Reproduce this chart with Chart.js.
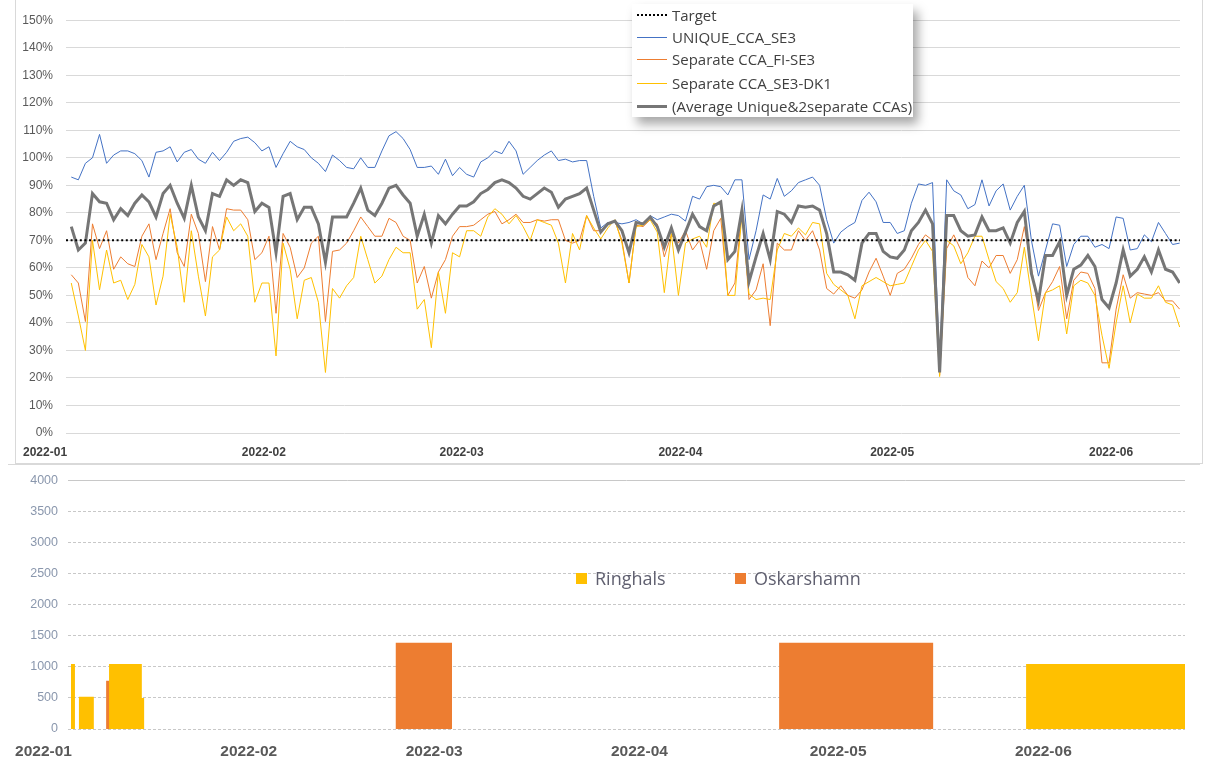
<!DOCTYPE html>
<html>
<head>
<meta charset="utf-8">
<script src="https://cdn.jsdelivr.net/npm/chart.js@4.4.1/dist/chart.umd.min.js"></script>
<style>
  body { margin: 0; background: #fff; width: 1206px; height: 760px; overflow: hidden; position: relative; }
  canvas { position: absolute; left: 0; }
  #topChart { top: 0; }
  #bottomChart { top: 463px; }
  #topFrame { position: absolute; left: 15px; top: -1px; width: 1186px; height: 463px; border: 1px solid #d9d9d9; }
  #bottomLine { position: absolute; left: 8px; top: 464px; width: 1192px; border-top: 1px solid #d9d9d9; }
  .legendBox { position: absolute; left: 632px; top: 4px; width: 281px; height: 113px; background: #fff;
               box-shadow: 5px 7px 10px rgba(0,0,0,0.35); font-family: 'Open Sans', sans-serif; font-size: 15px; color: #404040; }
  .row { position: absolute; left: 0; height: 20px; line-height: 20px; white-space: nowrap; }
  .row span.sample { position: absolute; left: 5px; top: 10px; width: 30px; }
  .row span.label { position: absolute; left: 40px; top: 0; }
  .barLegend { position: absolute; top: 566px; font-family: 'Open Sans', sans-serif; font-size: 18px; color: #5f5f6f; white-space: nowrap; }
  .barLegend i { display: inline-block; width: 11px; height: 11px; margin-right: 8px; vertical-align: 1px; }
</style>
</head>
<body>
<div id="topFrame"></div>
<canvas id="topChart" width="1206" height="463"></canvas>
<div id="bottomLine"></div>
<canvas id="bottomChart" width="1206" height="297"></canvas>

<div class="legendBox">
  <div class="row" style="top:1px"><span class="sample" style="border-top:2px dotted #000;top:9px"></span><span class="label">Target</span></div>
  <div class="row" style="top:23px"><span class="sample" style="border-top:1px solid #4472c4"></span><span class="label">UNIQUE_CCA_SE3</span></div>
  <div class="row" style="top:45px"><span class="sample" style="border-top:1px solid #ed7d31"></span><span class="label">Separate CCA_FI-SE3</span></div>
  <div class="row" style="top:69px"><span class="sample" style="border-top:1px solid #ffc000"></span><span class="label">Separate CCA_SE3-DK1</span></div>
  <div class="row" style="top:92px"><span class="sample" style="border-top:3px solid #767676;top:9px"></span><span class="label">(Average Unique&amp;2separate CCAs)</span></div>
</div>
<div class="barLegend" style="left:576px"><i style="background:#ffc000"></i>Ringhals</div>
<div class="barLegend" style="left:735px"><i style="background:#ed7d31"></i>Oskarshamn</div>

<script>
// month ticks (days since 2022-01-01)
const monthStarts = [0, 31, 59, 90, 120, 151];
const monthLabels = ['2022-01', '2022-02', '2022-03', '2022-04', '2022-05', '2022-06'];

// daily readings start at day 0.6 (Jan 1, afternoon)
const firstDay = 0.6;
const targetLevel = 70;

const uniqueSE3 = [93, 92, 98, 100, 108.5, 98, 101, 102.5, 102.5, 101.5,
  99, 93, 102, 102.5, 104, 98.5, 102, 103, 99.5, 98,
  102, 99, 102, 106, 107, 107.5, 105.5, 102.5, 104, 96.5,
  101.5, 106, 104, 103, 100, 98, 95, 101, 99, 96.5,
  96, 100, 96.5, 96.5, 102.5, 108, 109.5, 107, 103, 96.5,
  96.5, 97, 94, 99.5, 93.5, 96.5, 94, 93, 98.5, 100,
  102.5, 101.5, 106, 102.5, 94, 96.5, 99, 101, 102.5, 99,
  99.5, 98.5, 99, 99, 86, 74.5, 76.5, 76.5, 76, 76.5,
  77.5, 76, 79, 77.5, 78.5, 79.5, 79, 77, 86, 85,
  89.5, 90, 89.5, 86.5, 92, 92, 63, 73.5, 86.5, 85,
  92.5, 86, 88, 91, 92, 93, 90, 77.5, 69, 73,
  75, 76.5, 84.5, 87.5, 84, 76.5, 76.5, 72.5, 73.5, 83.5,
  90.5, 90, 91, 25, 92, 88, 86.5, 81.5, 83, 92,
  82.5, 88, 90.5, 81, 86, 90, 70, 57, 66.5, 76,
  75.5, 60.5, 68.5, 71.5, 71.5, 67.5, 68.5, 67, 78.5, 78,
  66.5, 67, 72, 69.5, 76.5, 72.5, 68.5, 69];

const sepFISE3 = [57.5, 54.5, 40.5, 76, 67, 73.5, 59.5, 64, 61.5, 60.5,
  71.5, 76, 63, 72.5, 81.5, 65.5, 60.5, 79.5, 72.5, 55,
  75, 66.5, 81.5, 81, 81, 77.5, 63, 65.5, 71.5, 43.5,
  72.5, 67.5, 56.5, 60, 69, 71.5, 40.5, 66, 66.5, 69,
  73.5, 78.5, 75, 71.5, 71.5, 78, 76.5, 71.5, 70, 54.5,
  60.5, 49, 58.5, 63, 71.5, 75, 75, 75.5, 77.5, 79.5,
  80.5, 76, 77.5, 79.5, 76.5, 76.5, 77.5, 77, 77.5, 77.5,
  70, 69, 70, 79, 73.5, 73.5, 76, 77, 70, 54.5,
  75.5, 75, 77.5, 76, 64, 72, 69, 73.5, 66.5, 70,
  59.5, 73.5, 78, 50, 54.5, 81, 48.5, 52, 61.5, 39,
  69, 66.5, 66.5, 73.5, 70, 73.5, 66.5, 52.5, 50.5, 53.5,
  50, 49, 52, 58.5, 63.5, 57, 50, 58, 59.5, 63.5,
  68.5, 72, 70, 21, 67, 72, 66.5, 56.5, 53.5, 62.5,
  60, 64.5, 64.5, 58, 63, 75, 60, 44.5, 51, 55,
  60.5, 41.5, 55.5, 58.5, 58, 52.5, 25.5, 25.5, 45, 57.5,
  49, 51, 50.5, 50, 51, 48, 48, 45];

const sepSE3DK1 = [54.5, 42.5, 30, 70, 52, 66.5, 54.5, 55.5, 48.5, 54,
  68.5, 64, 46.5, 57, 79.5, 67.5, 47.5, 73.5, 57, 42.5,
  64, 66.5, 78.5, 73.5, 76, 71.5, 47.5, 54.5, 54.5, 28,
  69, 59.5, 41.5, 55.5, 56.5, 47.5, 22, 52.5, 49, 53.5,
  56.5, 71.5, 63, 54.5, 57, 63, 67.5, 65.5, 65.5, 45,
  48.5, 31, 58.5, 43.5, 65.5, 64, 73.5, 73.5, 71.5, 78.5,
  81.5, 79.5, 76, 79, 75, 70, 77.5, 76.5, 75.5, 69,
  54.5, 72.5, 66.5, 79, 74.5, 70.5, 74.5, 77.5, 69, 54.5,
  75, 75.5, 77.5, 73, 51, 72.5, 50, 69, 70.5, 71.5,
  67.5, 83.5, 83, 50, 50, 79.5, 50.5, 48.5, 49, 48.5,
  66.5, 72.5, 71.5, 74.5, 72, 76.5, 76, 58, 54, 52,
  50, 41.5, 53.5, 55, 56.5, 55, 53.5, 54, 54.5, 60.5,
  66.5, 70, 66, 20.5, 70, 68, 61.5, 65.5, 71.5, 71.5,
  63, 55, 52.5, 47.5, 51, 67.5, 50, 33.5, 51, 52,
  53.5, 36, 53.5, 55.5, 54.5, 50, 35.5, 23.5, 40, 53.5,
  40, 50.5, 49, 49, 53.5, 47.5, 46.5, 38.5];

const averageCCA = [75, 66.5, 69, 87, 84, 83.5, 77.5, 81.5, 79, 83.5,
  86.5, 84, 78.5, 87, 90, 83.5, 78, 90, 78.5, 73.5,
  87, 86, 92, 90, 92, 91, 80.5, 83.5, 82, 65.5,
  86, 87, 77.5, 82, 82, 76, 62, 78.5, 78.5, 78.5,
  83.5, 89, 81, 79, 83.5, 89, 90, 86.5, 83.5, 71.5,
  79.5, 69, 79, 76, 79.5, 82.5, 82.5, 84, 87, 88.5,
  91, 92, 91, 89, 86, 85, 87, 89, 87.5, 82,
  85, 86, 87, 89, 81, 73, 76, 77, 73.5, 65.5,
  76.5, 76, 78.5, 75, 67.5, 74.5, 66.5, 73, 79.5, 75,
  73.5, 82.5, 84, 63, 66, 81, 55, 64, 72.5, 63,
  80.5, 79.5, 76.5, 82.5, 82, 82.5, 81, 72.5, 58.5, 58.5,
  57.5, 55.5, 69, 72.5, 72.5, 66, 64, 63.5, 66.5, 73.5,
  76.5, 81, 76, 22, 79, 79, 73.5, 71.5, 72, 78.5,
  73.5, 73.5, 74.5, 69, 76.5, 80.5, 58, 48, 64.5, 64.5,
  69.5, 50, 59.5, 61, 64.5, 60.5, 48.5, 45.5, 54.5, 66.5,
  57, 59.5, 64, 58.5, 66.5, 59.5, 58.5, 54.5];

// outages (MW), start/end in days since 2022-01-01
const ringhalsStart = [-0.15, 1.05, 5.6, 10.55, 144.1];
const ringhalsEnd   = [0.45, 3.3, 10.55, 10.9, 168.1];
const ringhalsMW    = [1045, 520, 1045, 500, 1045];
const oskarStart = [5.15, 48.9, 106.8];
const oskarEnd   = [5.75, 57.4, 130.1];
const oskarMW    = [775, 1390, 1390];

Chart.defaults.font.family = "'Liberation Sans', Arial, sans-serif";
Chart.defaults.animation = false;

function toPoints(values) {
  return values.map((v, i) => ({ x: firstDay + i, y: v }));
}

function toSteps(starts, ends, mw) {
  const pts = [];
  starts.forEach((s, i) => {
    pts.push({ x: s, y: mw[i] });
    pts.push({ x: ends[i], y: 0 });
  });
  return pts;
}

function monthTicks(scale) {
  scale.ticks = monthStarts.map(v => ({ value: v }));
}

function monthLabel(value) {
  const k = monthStarts.indexOf(value);
  return k >= 0 ? monthLabels[k] : '';
}

const topMin = -0.15, topMax = 157.65;

const lineSet = (label, data, color, width, order) => ({
  label: label, data: toPoints(data), borderColor: color, borderWidth: width,
  pointRadius: 0, tension: 0, fill: false, order: order
});

new Chart(document.getElementById('topChart'), {
  type: 'line',
  data: {
    datasets: [
      { label: 'Target', data: [{ x: topMin, y: targetLevel }, { x: topMax, y: targetLevel }],
        borderColor: '#000', borderWidth: 2, borderDash: [2, 2.6], pointRadius: 0, order: -1 },
      lineSet('UNIQUE_CCA_SE3', uniqueSE3, '#4472c4', 1, 3),
      lineSet('Separate CCA_FI-SE3', sepFISE3, '#ed7d31', 1, 2),
      lineSet('Separate CCA_SE3-DK1', sepSE3DK1, '#ffc000', 1, 1),
      lineSet('(Average Unique&2separate CCAs)', averageCCA, '#767676', 3, 0)
    ]
  },
  options: {
    responsive: false,
    layout: { padding: { left: 0, right: 26, top: 17, bottom: 0 } },
    plugins: { legend: { display: false }, tooltip: { enabled: false } },
    scales: {
      x: {
        type: 'linear', min: topMin, max: topMax,
        afterBuildTicks: monthTicks,
        afterFit: s => { s.height = 30; },
        grid: { display: false, drawTicks: false },
        border: { display: false },
        ticks: { autoSkip: false, maxRotation: 0, align: 'end', padding: 12,
                 color: '#404040', font: { size: 12, weight: 'bold' }, callback: monthLabel }
      },
      y: {
        min: 0, max: 150,
        afterFit: s => { s.width = 66; },
        grid: { color: '#d9d9d9', drawTicks: false },
        border: { display: false },
        ticks: { stepSize: 10, padding: 13, color: '#595959', font: { size: 12 }, callback: v => v + '%' }
      }
    }
  }
});

new Chart(document.getElementById('bottomChart'), {
  type: 'line',
  data: {
    datasets: [
      { label: 'Ringhals', data: toSteps(ringhalsStart, ringhalsEnd, ringhalsMW), stepped: true,
        fill: 'origin', backgroundColor: '#ffc000', borderColor: 'transparent', borderWidth: 0, pointRadius: 0, order: 0 },
      { label: 'Oskarshamn', data: toSteps(oskarStart, oskarEnd, oskarMW), stepped: true,
        fill: 'origin', backgroundColor: '#ed7d31', borderColor: 'transparent', borderWidth: 0, pointRadius: 0, order: 1 }
    ]
  },
  options: {
    responsive: false,
    layout: { padding: { left: 0, right: 21, top: 9, bottom: 0 } },
    plugins: { legend: { display: false }, tooltip: { enabled: false } },
    scales: {
      x: {
        type: 'linear', min: -0.6, max: 168.1,
        afterBuildTicks: monthTicks,
        afterFit: s => { s.height = 31; },
        grid: { display: false, drawTicks: false },
        border: { display: false },
        ticks: { autoSkip: false, maxRotation: 0, align: 'end', padding: 13,
                 color: '#595959', font: { size: 15.5, weight: 'bold' }, callback: monthLabel }
      },
      y: {
        min: 0, max: 4000,
        afterFit: s => { s.width = 68; },
        grid: { color: '#c8c8c8', drawTicks: false },
        border: { display: false, dash: ctx => (ctx.tick && ctx.tick.value === 4000) ? [] : [3, 2] },
        ticks: { stepSize: 500, padding: 10, color: '#8a97ad', font: { size: 12.5 }, callback: v => String(v) }
      }
    }
  }
});
</script>
</body>
</html>
